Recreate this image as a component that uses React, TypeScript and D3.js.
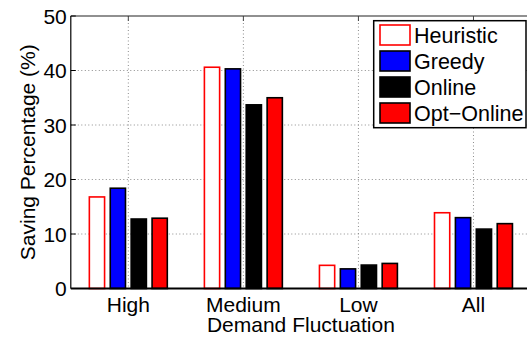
import React, { useEffect, useRef } from "react";
import * as d3 from "d3";

const categories = ["High", "Medium", "Low", "All"];
const seriesNames = ["Heuristic", "Greedy", "Online", "Opt\u2212Online"];
const heuristic = [16.8, 40.6, 4.25, 13.9];
const greedy = [18.4, 40.3, 3.6, 13.0];
const online = [12.75, 33.7, 4.3, 10.9];
const optOnline = [12.9, 35.0, 4.6, 11.9];
const yTicks = [0, 10, 20, 30, 40, 50];

const fills = ["#ffffff", "#0000ff", "#000000", "#ff0000"];
const strokes = ["#ff0000", "#000000", "#000000", "#000000"];

const App = () => {
  const svgRef = useRef<SVGSVGElement>(null);

  useEffect(() => {
    const width = 527;
    const height = 337;
    const left = 70.8, right = 531, top = 16, bottom = 288.5;
    const font = "'Liberation Sans', Arial, Helvetica, sans-serif";

    const svg = d3.select(svgRef.current);
    svg.selectAll("*").remove();
    svg.attr("width", width).attr("height", height);

    const x = d3.scaleLinear().domain([0.5, categories.length + 0.5]).range([left, right]);
    const y = d3.scaleLinear().domain([0, 50]).range([bottom, top]);

    const unit = x(1) - x(0);
    const groupWidth = unit * 0.727;
    const inner = d3.scaleBand<number>()
      .domain(d3.range(seriesNames.length))
      .range([-groupWidth / 2, groupWidth / 2])
      .paddingInner(0.2)
      .paddingOuter(0.1);

    const allSeries = [heuristic, greedy, online, optOnline];

    // grid
    const grid = svg.append("g").attr("stroke", "#8c8c8c").attr("stroke-width", 1).attr("stroke-dasharray", "1,2.5");
    grid.selectAll(".gy")
      .data(yTicks.filter(t => t > 0 && t < 50))
      .join("line")
      .attr("x1", left).attr("x2", width)
      .attr("y1", d => y(d)).attr("y2", d => y(d));
    grid.selectAll(".gx")
      .data(categories)
      .join("line")
      .attr("x1", (d, i) => x(i + 1)).attr("x2", (d, i) => x(i + 1))
      .attr("y1", top).attr("y2", bottom);

    // bars
    allSeries.forEach((vals, s) => {
      svg.append("g")
        .selectAll("rect")
        .data(vals)
        .join("rect")
        .attr("x", (d, i) => x(i + 1) + (inner(s) as number) + 0.75)
        .attr("width", inner.bandwidth() - 1.5)
        .attr("y", d => y(d))
        .attr("height", d => y(0) - y(d))
        .attr("fill", fills[s])
        .attr("stroke", strokes[s])
        .attr("stroke-width", 1.6);
    });

    // axes frame
    svg.append("line").attr("x1", left).attr("x2", width).attr("y1", top).attr("y2", top)
      .attr("stroke", "#222").attr("stroke-width", 1.2);
    svg.append("line").attr("x1", left).attr("x2", left).attr("y1", top).attr("y2", bottom)
      .attr("stroke", "#000").attr("stroke-width", 1.2);
    svg.append("line").attr("x1", left).attr("x2", width).attr("y1", bottom).attr("y2", bottom)
      .attr("stroke", "#000").attr("stroke-width", 2);

    // y ticks
    svg.append("g").selectAll("line")
      .data(yTicks)
      .join("line")
      .attr("x1", left).attr("x2", left + 5)
      .attr("y1", d => y(d)).attr("y2", d => y(d))
      .attr("stroke", "#000");
    svg.append("g").selectAll("text")
      .data(yTicks)
      .join("text")
      .attr("x", left - 4)
      .attr("y", d => y(d))
      .attr("dy", "0.36em")
      .attr("text-anchor", "end")
      .attr("font-family", font)
      .attr("font-size", 21)
      .text(d => d);

    // x ticks (top)
    svg.append("g").selectAll("line")
      .data(categories)
      .join("line")
      .attr("x1", (d, i) => x(i + 1)).attr("x2", (d, i) => x(i + 1))
      .attr("y1", top).attr("y2", top + 5)
      .attr("stroke", "#444");
    svg.append("g").selectAll("text")
      .data(categories)
      .join("text")
      .attr("x", (d, i) => x(i + 1))
      .attr("y", 311.5)
      .attr("text-anchor", "middle")
      .attr("font-family", font)
      .attr("font-size", 21)
      .text(d => d);

    svg.append("text")
      .attr("x", (left + right) / 2)
      .attr("y", 331.5)
      .attr("text-anchor", "middle")
      .attr("font-family", font)
      .attr("font-size", 21)
      .text("Demand Fluctuation");

    svg.append("text")
      .attr("transform", `translate(34.5,${(top + bottom) / 2}) rotate(-90)`)
      .attr("text-anchor", "middle")
      .attr("font-family", font)
      .attr("font-size", 21)
      .text("Saving Percentage (%)");

    // legend
    const lg = svg.append("g");
    lg.append("rect")
      .attr("x", 373.7).attr("y", 20.7)
      .attr("width", 152.3).attr("height", 107)
      .attr("fill", "#fff").attr("stroke", "#000").attr("stroke-width", 1.5);
    const rows = lg.selectAll("g.row")
      .data(seriesNames)
      .join("g")
      .attr("transform", (d, i) => `translate(0,${35 + i * 26})`);
    rows.append("rect")
      .attr("x", 380).attr("y", -10)
      .attr("width", 30).attr("height", 20)
      .attr("fill", (d, i) => fills[i])
      .attr("stroke", (d, i) => strokes[i])
      .attr("stroke-width", 1.6);
    rows.append("text")
      .attr("x", 414).attr("y", 0)
      .attr("dy", "0.36em")
      .attr("font-family", font)
      .attr("font-size", 21.5)
      .text(d => d);
  }, []);

  return (
    <svg ref={svgRef} style={{ position: "absolute", left: 0, top: 0, background: "#fff" }}></svg>
  );
};

export default App;
